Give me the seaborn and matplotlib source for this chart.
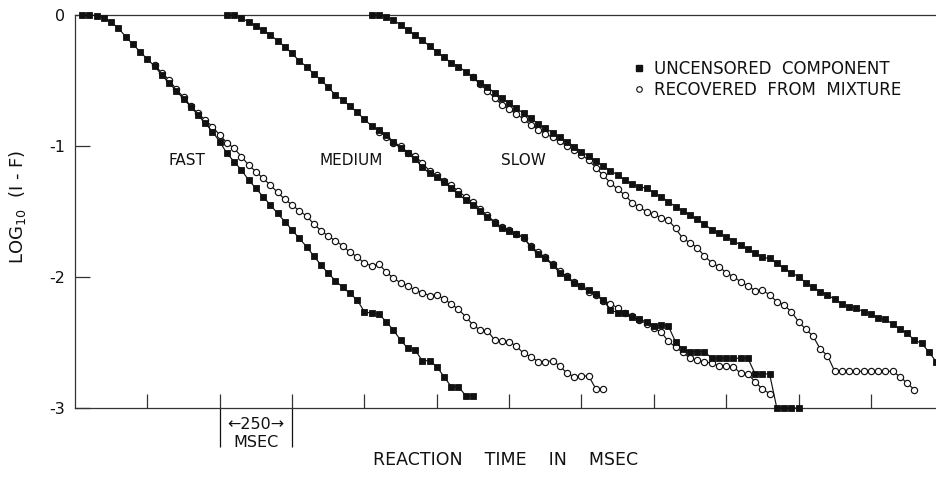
import numpy as np
import matplotlib
matplotlib.use("Agg")
import matplotlib.pyplot as plt
from matplotlib.lines import Line2D
from matplotlib.transforms import blended_transform_factory
import seaborn as sns

# Survivor functions, log10(1 - F), sampled in 25 ms bins
BIN_MS = 25

FAST_UNC_T0 = 25
fast_uncensored = [
    0.0, 0.0, -0.005, -0.02, -0.056, -0.10, -0.165, -0.224, -0.28, -0.338,
    -0.39, -0.458, -0.52, -0.578, -0.641, -0.70, -0.763, -0.827, -0.89, -0.967,
    -1.056, -1.12, -1.183, -1.26, -1.323, -1.387, -1.45, -1.514, -1.578, -1.641,
    -1.705, -1.768, -1.84, -1.908, -1.972, -2.028, -2.079, -2.125, -2.176, -2.265,
    -2.277, -2.282, -2.341, -2.405, -2.481, -2.545, -2.557, -2.639, -2.639, -2.684,
    -2.761, -2.837, -2.837, -2.906, -2.906,
]

FAST_REC_T0 = 275
fast_recovered = [
    -0.385, -0.44, -0.496, -0.567, -0.628, -0.695, -0.751, -0.802, -0.852, -0.916,
    -0.975, -1.018, -1.081, -1.145, -1.196, -1.247, -1.298, -1.354, -1.407, -1.450,
    -1.494, -1.534, -1.595, -1.646, -1.687, -1.725, -1.761, -1.812, -1.845, -1.896,
    -1.913, -1.903, -1.959, -2.010, -2.043, -2.069, -2.099, -2.120, -2.142, -2.137,
    -2.168, -2.206, -2.247, -2.303, -2.366, -2.405, -2.410, -2.481, -2.486, -2.494,
    -2.527, -2.583, -2.608, -2.646, -2.646, -2.639, -2.679, -2.735, -2.761, -2.756,
    -2.756, -2.855, -2.855,
]

MED_UNC_T0 = 525
medium_uncensored = [
    0.0, 0.0, -0.025, -0.051, -0.084, -0.115, -0.153, -0.196, -0.242, -0.293,
    -0.351, -0.394, -0.450, -0.496, -0.552, -0.611, -0.649, -0.695, -0.743, -0.796,
    -0.847, -0.878, -0.916, -0.967, -1.018, -1.056, -1.102, -1.158, -1.209, -1.234,
    -1.272, -1.323, -1.366, -1.412, -1.450, -1.494, -1.539, -1.585, -1.628, -1.646,
    -1.672, -1.697, -1.774, -1.824, -1.858, -1.908, -1.967, -2.003, -2.048, -2.069,
    -2.099, -2.130, -2.176, -2.252, -2.272, -2.277, -2.308, -2.323, -2.341, -2.374,
    -2.366, -2.374, -2.494, -2.552, -2.57, -2.57, -2.57, -2.62, -2.62, -2.62,
    -2.62, -2.62, -2.62, -2.74, -2.74, -2.74, -3.0, -3.0, -3.0, -3.0,
]

MED_REC_T0 = 1050
medium_recovered = [
    -0.89, -0.93, -0.975, -1.00, -1.05, -1.075, -1.13, -1.19, -1.225, -1.265,
    -1.30, -1.345, -1.39, -1.43, -1.48, -1.53, -1.58, -1.62, -1.645, -1.67,
    -1.70, -1.765, -1.81, -1.85, -1.90, -1.955, -1.995, -2.04, -2.07, -2.115,
    -2.14, -2.18, -2.205, -2.235, -2.275, -2.30, -2.33, -2.355, -2.39, -2.42,
    -2.49, -2.535, -2.575, -2.62, -2.635, -2.65, -2.655, -2.68, -2.68, -2.685,
    -2.735, -2.74, -2.80, -2.855, -2.89,
]

SLOW_UNC_T0 = 1025
slow_uncensored = [
    0.0, 0.0, -0.013, -0.038, -0.076, -0.115, -0.153, -0.191, -0.237, -0.280,
    -0.323, -0.364, -0.394, -0.433, -0.476, -0.517, -0.552, -0.593, -0.636, -0.674,
    -0.712, -0.751, -0.789, -0.832, -0.865, -0.898, -0.934, -0.967, -1.005, -1.043,
    -1.076, -1.115, -1.153, -1.188, -1.221, -1.260, -1.290, -1.310, -1.323, -1.356,
    -1.387, -1.425, -1.463, -1.494, -1.527, -1.560, -1.595, -1.641, -1.667, -1.692,
    -1.723, -1.756, -1.789, -1.819, -1.850, -1.858, -1.896, -1.934, -1.967, -1.997,
    -2.043, -2.079, -2.112, -2.137, -2.170, -2.206, -2.226, -2.239, -2.265, -2.282,
    -2.316, -2.323, -2.359, -2.399, -2.430, -2.481, -2.506, -2.570, -2.646,
]

SLOW_REC_T0 = 1375
slow_recovered = [
    -0.476, -0.53, -0.578, -0.635, -0.685, -0.72, -0.756, -0.795, -0.84, -0.875,
    -0.905, -0.935, -0.965, -1.00, -1.03, -1.065, -1.11, -1.165, -1.225, -1.28,
    -1.331, -1.374, -1.433, -1.468, -1.501, -1.522, -1.547, -1.565, -1.629, -1.705,
    -1.738, -1.776, -1.840, -1.891, -1.921, -1.967, -1.998, -2.036, -2.069, -2.104,
    -2.099, -2.137, -2.188, -2.214, -2.265, -2.34, -2.40, -2.45, -2.55, -2.60,
    -2.72, -2.72, -2.72, -2.72, -2.72, -2.72, -2.72, -2.72, -2.72, -2.76,
    -2.81, -2.86,
]

group_labels = ["FAST", "MEDIUM", "SLOW"]
group_label_x = [387, 954, 1548]
group_label_y = -1.107

y_ticks = [-3, -2, -1, 0]
y_tick_labels = ["-3", "-2", "-1", "0"]
x_ticks = [250, 500, 750, 1000, 1250, 1500, 1750, 2000, 2250, 2500, 2750]
legend_labels = ["UNCENSORED  COMPONENT", "RECOVERED  FROM  MIXTURE"]

INK = "#111111"
AXIS = "#333333"

sns.set_theme(style="white")
plt.rcParams["font.family"] = ["DejaVu Sans"]
plt.rcParams["mathtext.fontset"] = "dejavusans"

fig = plt.figure(figsize=(9.36, 4.8), dpi=100)
ax = fig.add_axes([75 / 936, 72 / 480, 861 / 936, 393 / 480])


def draw_curve(t0, values, filled):
    t = t0 + BIN_MS * np.arange(len(values))
    if filled:
        style = dict(marker="s", markersize=5.0, markerfacecolor=INK,
                     markeredgecolor=INK, markeredgewidth=0.6, zorder=4)
    else:
        style = dict(marker="o", markersize=4.5, markerfacecolor="white",
                     markeredgecolor=INK, markeredgewidth=0.85, zorder=3)
    sns.lineplot(x=t, y=values, ax=ax, estimator=None, sort=False,
                 color=INK, linewidth=0.85, clip_on=False, legend=False, **style)


# recovered curves first so the uncensored squares sit on top
draw_curve(FAST_REC_T0, fast_recovered, False)
draw_curve(MED_REC_T0, medium_recovered, False)
draw_curve(SLOW_REC_T0, slow_recovered, False)
draw_curve(FAST_UNC_T0, fast_uncensored, True)
draw_curve(MED_UNC_T0, medium_uncensored, True)
draw_curve(SLOW_UNC_T0, slow_uncensored, True)

ax.set_xlim(0, 2975)
ax.set_ylim(-3, 0)

for side in ["left", "top", "bottom"]:
    ax.spines[side].set_visible(True)
    ax.spines[side].set_color(AXIS)
    ax.spines[side].set_linewidth(0.9)
ax.spines["right"].set_visible(False)

ax.set_yticks(y_ticks)
ax.set_yticklabels(y_tick_labels)
ax.set_xticks(x_ticks)
ax.set_xticklabels([])
ax.tick_params(axis="y", direction="in", length=11, width=0.9, color=AXIS,
               pad=7, labelsize=11.5, labelcolor=INK, left=True)
ax.tick_params(axis="x", direction="in", length=10, width=0.9, color=AXIS,
               bottom=True, top=False)
ax.grid(False)

# 250 ms scale bar under the axis
trans = blended_transform_factory(ax.transData, ax.transAxes)
ax.vlines([500, 750], -0.099, 0.0, transform=trans, color=INK,
          linewidth=0.9, clip_on=False)
ax.text(625, -0.043, "\u2190250\u2192", transform=trans, ha="center",
        va="center", fontsize=11.5, color=INK)
ax.text(625, -0.089, "MSEC", transform=trans, ha="center", va="center",
        fontsize=11.5, color=INK)

for label, lx in zip(group_labels, group_label_x):
    ax.text(lx, group_label_y, label, ha="center", va="center",
            fontsize=11, color=INK)

handles = [
    Line2D([], [], linestyle="none", marker="s", markersize=4.6,
           markerfacecolor=INK, markeredgecolor=INK),
    Line2D([], [], linestyle="none", marker="o", markersize=4.0,
           markerfacecolor="white", markeredgecolor=INK, markeredgewidth=0.8),
]
leg = ax.legend(handles, legend_labels, loc="upper left",
                bbox_to_anchor=(632 / 936, 1 - 60 / 480),
                bbox_transform=fig.transFigure, frameon=False,
                handlelength=0.8, handletextpad=0.5, labelspacing=0.2,
                borderpad=0, borderaxespad=0, fontsize=12)
for txt in leg.get_texts():
    txt.set_color(INK)

fig.text(18 / 936, 1 - 207 / 480, "LOG$_{10}$  (I - F)", rotation=90,
         ha="center", va="center", fontsize=13, color=INK)
fig.text(506 / 936, 1 - 460 / 480, "REACTION    TIME    IN    MSEC",
         ha="center", va="center", fontsize=12.5, color=INK)

fig.savefig("out.png", dpi=100, facecolor="white")
